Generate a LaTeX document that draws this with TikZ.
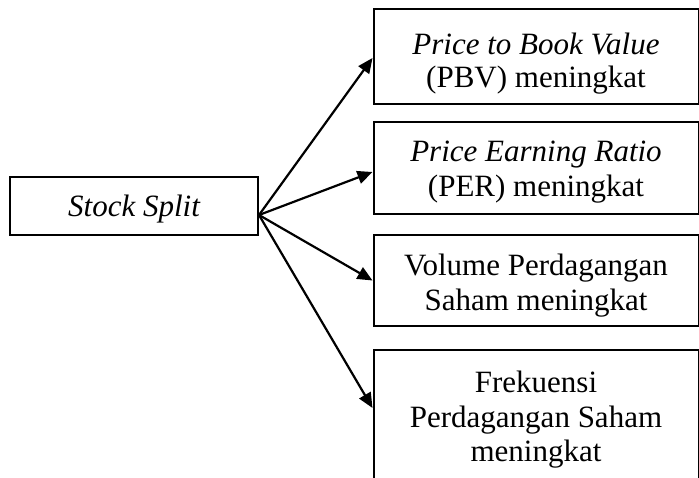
\documentclass[tikz,border=0pt]{standalone}
\usepackage{fontspec}
\setmainfont{Liberation Serif}
\usetikzlibrary{arrows.meta}
\begin{document}
\begin{tikzpicture}[x=1pt,y=-1pt,
  box/.style={draw, line width=2pt, inner sep=0pt},
  txt/.style={inner sep=0pt, anchor=base, font=\fontsize{31}{35}\selectfont},
  arr/.style={line width=2.2pt, -{Triangle[length=15pt,width=13pt]}}]
\useasboundingbox (0,0) rectangle (699,478);
\clip (0,0) rectangle (699,478);
\fill[white] (0,0) rectangle (699,478);
% left box
\node[box, minimum width=248pt, minimum height=58pt] (ss) at (134,206) {};
\node[txt] (tss) at (134,217) {\itshape Stock Split};
% right boxes
\node[box, minimum width=325pt, minimum height=95pt] (b1) at (536,56.5) {};
\node[txt] (t1a) at (536,55) {\itshape Price to Book Value};
\node[txt] (t1b) at (536,88) {(PBV) meningkat};
\node[box, minimum width=325pt, minimum height=92pt] (b2) at (536,168) {};
\node[txt] (t2a) at (536,162) {\itshape Price Earning Ratio};
\node[txt] (t2b) at (536,197) {(PER) meningkat};
\node[box, minimum width=325pt, minimum height=91pt] (b3) at (536,280.5) {};
\node[txt] (t3a) at (536,276) {Volume Perdagangan};
\node[txt] (t3b) at (536,311) {Saham meningkat};
\node[box, minimum width=325pt, minimum height=150pt] (b4) at (536,425) {};
\node[txt] (t4a) at (536,392) {Frekuensi};
\node[txt] (t4b) at (536,427) {Perdagangan Saham};
\node[txt] (t4c) at (536,461) {meningkat};
% arrows
\coordinate (o) at ([yshift=-9pt]ss.east);
\draw[arr] (o) -- ([yshift=-1.5pt]b1.west);
\draw[arr] (o) -- ([yshift=-4pt]b2.west);
\draw[arr] (o) -- (b3.west);
\draw[arr] (o) -- ([yshift=17pt]b4.west);
\end{tikzpicture}
\end{document}
